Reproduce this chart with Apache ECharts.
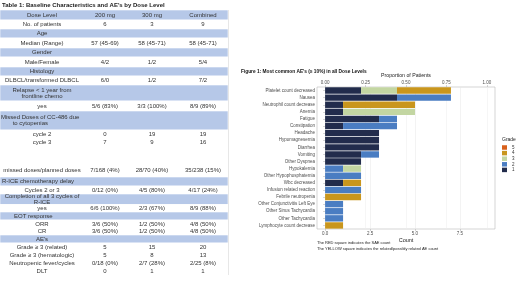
<!DOCTYPE html>
<html>
<head>
<meta charset="utf-8">
<title>Table 1 / Figure 1</title>
<script src="https://cdn.jsdelivr.net/npm/echarts@6/dist/echarts.min.js"></script>
<style>
  html, body { margin: 0; padding: 0; background: #fff; }
  #main { width: 520px; height: 290px; }
</style>
</head>
<body>
<div id="main"></div>
<script>
// ---- Table 1 data ----
var tableTitle = "Table 1: Baseline Characteristics and AE's by Dose Level";
var doseCols = ['Dose Level', '200 mg', '300 mg', 'Combined'];
// rows with one entry are the blue section rows
var tableRows = [
  ['No. of patients', '6', '3', '9'],
  ['Age'],
  ['Median (Range)', '57 (45-69)', '58 (45-71)', '58 (45-71)'],
  ['Gender'],
  ['Male/Female', '4/2', '1/2', '5/4'],
  ['Histology'],
  ['DLBCL/transformed DLBCL', '6/0', '1/2', '7/2'],
  ['Relapse < 1 year from\nfrontline chemo'],
  ['yes', '5/6 (83%)', '3/3 (100%)', '8/9 (89%)'],
  ['Missed Doses of CC-486 due\n       to cytopenias'],
  ['cycle 2', '0', '19', '19'],
  ['cycle 3', '7', '9', '16'],
  ['missed doses/planned doses', '7/168 (4%)', '28/70 (40%)', '35/238 (15%)'],
  ['R-ICE chemotherapy delay'],
  ['Cycles 2 or 3', '0/12 (0%)', '4/5 (80%)', '4/17 (24%)'],
  ['Completion of all 3 cycles of\nR-ICE'],
  ['yes', '6/6 (100%)', '2/3 (67%)', '8/9 (88%)'],
  ['EOT response'],
  ['ORR', '3/6 (50%)', '1/2 (50%)', '4/8 (50%)'],
  ['CR', '3/6 (50%)', '1/2 (50%)', '4/8 (50%)'],
  ["AE's"],
  ['Grade \u2265 3 (related)', '5', '15', '20'],
  ['Grade \u2265 3 (hematologic)', '5', '8', '13'],
  ['Neutropenic fever/cycles', '0/18 (0%)', '2/7 (28%)', '2/25 (8%)'],
  ['DLT', '0', '1', '1']
];

// ---- Figure 1 data ----
var aeNames = ['Platelet count decreased', 'Nausea', 'Neutrophil count decrease', 'Anemia',
  'Fatigue', 'Constipation', 'Headache', 'Hypomagnesemia', 'Diarrhea', 'Vomiting',
  'Other Dyspnea', 'Hypokalemia', 'Other Hypophosphatemia', 'Wbc decreased',
  'Infusion related reaction', 'Febrile neutropenia', 'Other Conjunctivitis Left Eye',
  'Other Sinus Tachycardia', 'Other Tachycardia', 'Lymphocyte count decrease'];
var grade1 = [2, 4, 1, 1, 3, 1, 3, 3, 3, 2, 2, 0, 0, 1, 0, 0, 0, 0, 0, 0];
var grade2 = [0, 3, 0, 0, 1, 3, 0, 0, 0, 1, 0, 1, 2, 0, 2, 0, 1, 1, 1, 0];
var grade3 = [2, 0, 0, 4, 0, 0, 0, 0, 0, 0, 0, 1, 0, 0, 0, 0, 0, 0, 0, 0];
var grade4 = [3, 0, 4, 0, 0, 0, 0, 0, 0, 0, 0, 0, 0, 1, 0, 2, 0, 0, 0, 1];
var grade5 = [0, 0, 0, 0, 0, 0, 0, 0, 0, 0, 0, 0, 0, 0, 0, 0, 0, 0, 0, 0];
var gradeNames = ['1', '2', '3', '4', '5'];
var nPatients = 9;
var countTicks = [0, 2.5, 5, 7.5];
var propTicks = [0, 0.25, 0.5, 0.75, 1];

// ---- table layout ----
var rowEdges = [10, 20, 29, 38, 48, 57, 67, 76, 85, 101, 111, 130, 138.5, 147, 177, 186, 194,
  204.5, 212, 220, 228, 235, 243, 251, 259, 267, 275];
var colX = [42, 105, 152, 203];
var tableW = 228;
var leftSections = { 'R-ICE chemotherapy delay': 2, 'Missed Doses of CC-486 due\n       to cytopenias': 1, 'EOT response': 14 };
var font = '"Liberation Sans", Arial, sans-serif';
var blueFill = '#b6c8e8';

function txt(x, y, s, size, align, weight, color) {
  return {
    type: 'text', x: x, y: y, silent: true,
    style: {
      text: s, fill: color || '#333', fontSize: size, fontFamily: font, fontWeight: weight || 'normal',
      align: align, verticalAlign: 'middle', textAlign: align, textVerticalAlign: 'middle', lineHeight: 6.3
    }
  };
}

var graphics = [];
graphics.push(txt(2, 5, tableTitle, 6, 'left', 'bold', '#222'));
var allRows = [doseCols].concat(tableRows);
allRows.forEach(function (r, i) {
  var y0 = rowEdges[i], y1 = rowEdges[i + 1];
  var blue = i === 0 || r.length === 1;
  graphics.push({
    type: 'rect', silent: true,
    shape: { x: 0, y: y0, width: tableW, height: y1 - y0 },
    style: { fill: blue ? blueFill : '#fff', stroke: '#fff', lineWidth: 0.6 }
  });
  var yc = (y0 + y1) / 2;
  if (r[0] === 'missed doses/planned doses') yc = y1 - 7;
  if (r.length === 1) {
    if (leftSections.hasOwnProperty(r[0])) graphics.push(txt(leftSections[r[0]], yc, r[0], 6, 'left'));
    else graphics.push(txt(colX[0], yc, r[0], 6, 'center'));
  } else {
    r.forEach(function (s, j) { graphics.push(txt(colX[j], yc, s, 6, 'center')); });
  }
});
graphics.push({
  type: 'line', silent: true,
  shape: { x1: tableW + 0.5, y1: 10, x2: tableW + 0.5, y2: 275 },
  style: { stroke: '#d6d6d6', lineWidth: 0.6 }
});

// ---- figure texts ----
graphics.push(txt(241, 72, "Figure 1: Most common AE's (\u2265 10%) in all Dose Levels", 4.8, 'left', 'bold', '#111'));
graphics.push(txt(502, 140, 'Grade', 5, 'left', 'normal', '#222'));
graphics.push(txt(317, 243, 'The RED square indicates the SAE count', 4, 'left', 'normal', '#222'));
graphics.push(txt(317, 249, 'The YELLOW square indicates the related/possibly related AE count', 4, 'left', 'normal', '#222'));

var gradeData = [grade1, grade2, grade3, grade4, grade5];
var gradeColors = ['#222c4c', '#4a7dc2', '#c3d6a2', '#c9961d', '#d8601b'];
var series = gradeNames.map(function (g, i) {
  return {
    name: g, type: 'bar', stack: 'ae', barWidth: '90%',
    xAxisIndex: 0, yAxisIndex: 0,
    data: gradeData[i],
    itemStyle: { color: gradeColors[i] },
    emphasis: { disabled: true }
  };
});

var lo = -0.45, hi = 9.45;
var tickLbl = { fontSize: 4.5, color: '#4d4d4d', fontFamily: font, margin: 2 };

var chart = echarts.init(document.getElementById('main'));
chart.setOption({
  animation: false,
  backgroundColor: '#fff',
  textStyle: { fontFamily: font },
  grid: { left: 317, right: 25, top: 87, bottom: 61, show: true, borderColor: '#b9b9b9', borderWidth: 0.6, backgroundColor: '#fff' },
  legend: {
    data: ['5', '4', '3', '2', '1'], orient: 'vertical', left: 502, top: 145,
    icon: 'rect', itemWidth: 5, itemHeight: 4.5, itemGap: 0.6, padding: 0,
    textStyle: { fontSize: 4.5, color: '#333', fontFamily: font }, selectedMode: false
  },
  xAxis: [{
    type: 'value', position: 'bottom', min: lo, max: hi,
    name: 'Count', nameLocation: 'middle', nameGap: 8,
    nameTextStyle: { fontSize: 5.5, color: '#222', fontFamily: font },
    axisLine: { show: false },
    axisTick: { show: true, length: 2, customValues: countTicks, lineStyle: { color: '#aaa', width: 0.5 } },
    axisLabel: Object.assign({ customValues: countTicks, formatter: function (v) { return v.toFixed(1); } }, tickLbl),
    splitLine: { show: true, lineStyle: { color: '#e6e6e6', width: 0.5 } }
  }, {
    type: 'value', position: 'top', min: lo / nPatients, max: hi / nPatients,
    name: 'Proportion of Patients', nameLocation: 'middle', nameGap: 9,
    nameTextStyle: { fontSize: 5.2, color: '#222', fontFamily: font },
    axisLine: { show: false },
    axisTick: { show: true, length: 2, customValues: propTicks, lineStyle: { color: '#aaa', width: 0.5 } },
    axisLabel: Object.assign({ customValues: propTicks, formatter: function (v) { return v.toFixed(2); } }, tickLbl),
    splitLine: { show: true, lineStyle: { color: '#ececec', width: 0.5 } }
  }],
  yAxis: {
    type: 'category', data: aeNames, inverse: true,
    axisLine: { show: false },
    axisTick: { show: true, length: 2, alignWithLabel: true, lineStyle: { color: '#aaa', width: 0.5 } },
    axisLabel: Object.assign({ interval: 0 }, tickLbl),
    splitLine: { show: false }
  },
  series: series,
  graphic: graphics
});
</script>
</body>
</html>
